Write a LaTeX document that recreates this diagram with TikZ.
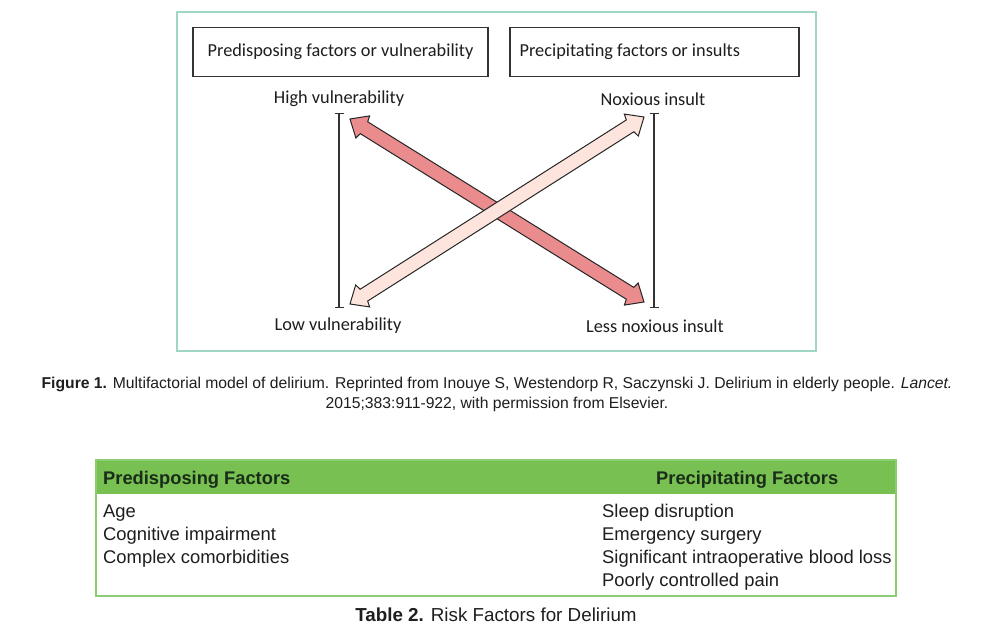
\documentclass[tikz,border=0pt]{standalone}
\usepackage{fontspec}
\setmainfont{Liberation Sans}
\newfontfamily\lancet{Carlito}
\usetikzlibrary{calc,arrows.meta}
\definecolor{framecol}{RGB}{160,214,196}
\definecolor{hdrgreen}{RGB}{120,192,82}
\definecolor{tblborder}{RGB}{140,205,115}
\definecolor{redarrow}{RGB}{234,140,142}
\definecolor{pinkarrow}{RGB}{253,228,220}
\definecolor{txt}{RGB}{30,30,30}
\definecolor{hdrtxt}{RGB}{25,45,25}
\newcommand\fatarrow[3]{%
  \draw[arrowline, fill=#3] (#1)
   -- ($(#1)!15pt!(#2)!13pt!90:(#2)$)
   -- ($(#1)!16.5pt!(#2)!7pt!90:(#2)$)
   -- ($(#2)!16.5pt!(#1)!7pt!-90:(#1)$)
   -- ($(#2)!15pt!(#1)!13pt!-90:(#1)$)
   -- (#2)
   -- ($(#2)!15pt!(#1)!13pt!90:(#1)$)
   -- ($(#2)!16.5pt!(#1)!7pt!90:(#1)$)
   -- ($(#1)!16.5pt!(#2)!7pt!-90:(#2)$)
   -- ($(#1)!15pt!(#2)!13pt!-90:(#2)$)
   -- cycle;}
\tikzset{
  arrowline/.style={draw=black!85, line width=1pt, line join=miter},
  hbox/.style={draw=black!80, line width=1.2pt, inner sep=0pt},
  lbl/.style={font=\lancet\fontsize{18.3}{20}\selectfont, text=txt, inner sep=0pt},
  rangebar/.style={draw=black!80, line width=1.1pt, {Bar[width=9pt]}-{Bar[width=9pt]}},
  captxt/.style={font=\fontsize{15.7}{18}\selectfont, text=txt, inner sep=0pt, anchor=base},
  tbody/.style={font=\fontsize{18.4}{20}\selectfont, text=txt, inner sep=0pt, anchor=base west},
  thead/.style={font=\bfseries\fontsize{18.3}{20}\selectfont, text=hdrtxt, inner sep=0pt, anchor=base west}
}
\begin{document}
\begin{tikzpicture}[x=1pt,y=-1pt]
\useasboundingbox (0,0) rectangle (993,631);
\fill[white] (0,0) rectangle (993,631);
% figure frame
\draw[framecol, line width=1.6pt] (177,12) rectangle (816,351);
\node[hbox, minimum width=295pt, minimum height=49pt] (b1) at (340.5,52) {};
\node[lbl] (b1t) at (b1.center) {Predisposing factors or vulnerability};
\node[hbox, minimum width=289pt, minimum height=49pt] (b2) at (654.5,52) {};
\node[lbl, anchor=west] (b2t) at ([xshift=10pt]b2.west) {Precipitating factors or insults};
\node[lbl] (hv) at (339,99) {High vulnerability};
\node[lbl] (ni) at (653,99) {Noxious insult};
\node[lbl] (lv) at (338,326) {Low vulnerability};
\node[lbl] (lni) at (655,326) {Less noxious insult};
% range bars
\coordinate (lt) at (339,113);
\coordinate (lb) at (339,308);
\coordinate (rt) at (654,113);
\coordinate (rb) at (654,308);
\draw[rangebar] (lt) -- (lb);
\draw[rangebar] (rt) -- (rb);
% crossing arrows
\coordinate (r1) at (350,119);
\coordinate (r2) at (644,302);
\coordinate (p1) at (350,304);
\coordinate (p2) at (644,117);
\fatarrow{r1}{r2}{redarrow}
\fatarrow{p1}{p2}{pinkarrow}
% figure caption
\node[captxt] (c1) at (497,388) {\textbf{Figure 1.} Multifactorial model of delirium. Reprinted from Inouye S, Westendorp R, Saczynski J. Delirium in elderly people. \textit{Lancet.}};
\node[captxt] (c2) at (497,408) {2015;383:911-922, with permission from Elsevier.};
% table
\fill[hdrgreen] (96,460) rectangle (896,494);
\draw[tblborder, line width=1.6pt] (96,460) rectangle (896,596);
\node[thead] (h1) at (103,484) {Predisposing Factors};
\node[thead] (h2) at (656,484) {Precipitating Factors};
\node[tbody] (a1) at (103,517) {Age};
\node[tbody] (a2) at (103,540) {Cognitive impairment};
\node[tbody] (a3) at (103,563) {Complex comorbidities};
\node[tbody] (p1t) at (602,517) {Sleep disruption};
\node[tbody] (p2t) at (602,540) {Emergency surgery};
\node[tbody] (p3t) at (602,563) {Significant intraoperative blood loss};
\node[tbody] (p4t) at (602,586) {Poorly controlled pain};
\node[captxt, font=\fontsize{18.8}{20}\selectfont] (tc) at (496,621) {\textbf{Table 2.} Risk Factors for Delirium};
\end{tikzpicture}
\end{document}
